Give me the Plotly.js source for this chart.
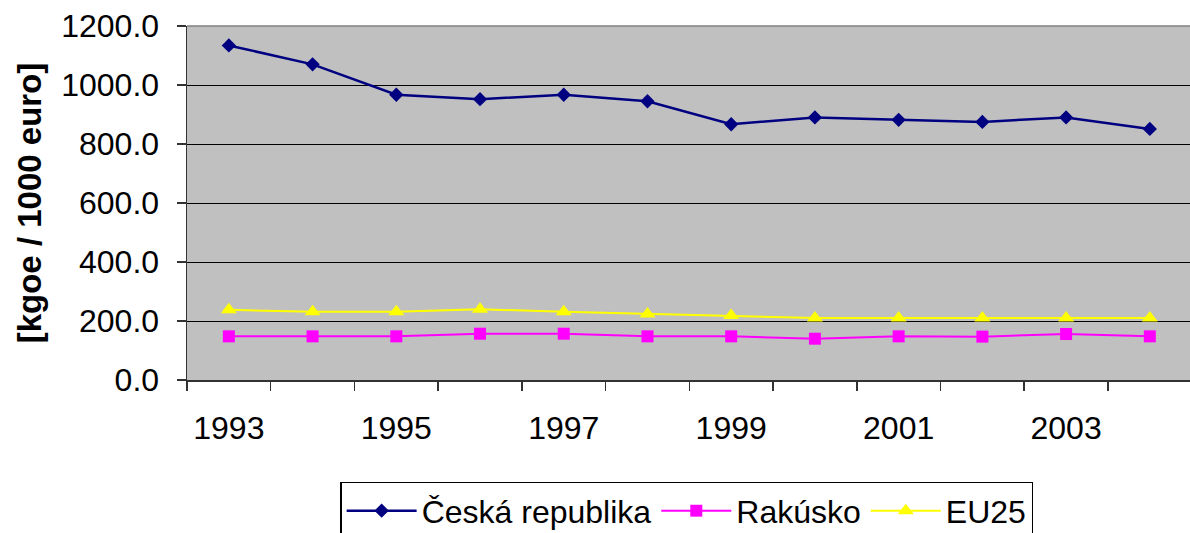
<!DOCTYPE html>
<html>
<head>
<meta charset="utf-8">
<script src="https://cdn.plot.ly/plotly-3.0.1.min.js"></script>
<style>html,body{margin:0;padding:0;background:#fff;}#chart{width:1190px;height:533px;}</style>
</head>
<body>
<div id="chart"></div>
<script>
const years = [1993, 1994, 1995, 1996, 1997, 1998, 1999, 2000, 2001, 2002, 2003, 2004];
const yearLabels = ['1993', '', '1995', '', '1997', '', '1999', '', '2001', '', '2003', ''];
const ceskaRepublika = [1134, 1070, 967, 952, 967, 945, 867, 890, 882, 875, 890, 851];
const rakusko = [148, 148, 148, 157, 157, 148, 148, 140, 148, 147, 156, 148];
const eu25 = [238, 231, 231, 240, 231, 224, 219, 210, 210, 210, 210, 210];
const seriesNames = ['Česká republika', 'Rakúsko', 'EU25'];
const yTicks = [0, 200, 400, 600, 800, 1000, 1200];

const traces = [
  {x: years, y: ceskaRepublika, name: seriesNames[0], type: 'scatter', mode: 'lines+markers',
   line: {color: '#000080', width: 2.5}, marker: {symbol: 'diamond', size: 11, color: '#000080'}},
  {x: years, y: rakusko, name: seriesNames[1], type: 'scatter', mode: 'lines+markers',
   line: {color: '#FF00FF', width: 2}, marker: {symbol: 'square', size: 12, color: '#FF00FF'}},
  {x: years, y: eu25, name: seriesNames[2], type: 'scatter', mode: 'lines+markers',
   line: {color: '#FFFF00', width: 2}, marker: {symbol: 'triangle-up', size: 14, color: '#FFFF00'}}
];

const layout = {
  width: 1190, height: 533,
  margin: {l: 187, r: 0, t: 26, b: 153},
  paper_bgcolor: '#ffffff',
  plot_bgcolor: '#C0C0C0',
  font: {family: 'Arial, "Liberation Sans", sans-serif', color: '#000'},
  showlegend: true,
  legend: {
    orientation: 'h', xref: 'container', yref: 'container',
    x: 0.577, xanchor: 'center', y: 0.096, yanchor: 'top',
    bordercolor: '#000', borderwidth: 1.5, bgcolor: '#fff',
    font: {size: 32, family: 'Arial, "Liberation Sans", sans-serif'},
    itemwidth: 70
  },
  xaxis: {
    type: 'linear', range: [1992.5, 2004.48],
    tickmode: 'array', tickvals: years, ticktext: yearLabels,
    ticks: '', showgrid: false, zeroline: false,
    showline: true, linecolor: '#333', linewidth: 1.5,
    tickfont: {size: 32}, ticklabelstandoff: 19,
    minor: {tickmode: 'linear', tick0: 1992.5, dtick: 1, ticks: 'outside', ticklen: 9, tickcolor: '#333', tickwidth: 1.5, showgrid: false}
  },
  yaxis: {
    range: [0, 1200], tickmode: 'array', tickvals: yTicks, tickformat: '.1f',
    ticks: 'outside', ticklen: 9, tickcolor: '#333', tickwidth: 1.5,
    showgrid: true, gridcolor: '#000', gridwidth: 1, zeroline: false,
    showline: true, linecolor: '#333', linewidth: 1.5,
    tickfont: {size: 32}, ticklabelstandoff: 11,
    title: {text: '[kgoe / 1000 euro]', font: {size: 33, weight: 'bold'}, standoff: 9}
  },
  shapes: [
    {type: 'line', xref: 'x domain', yref: 'y domain', x0: 0, x1: 1, y0: 1, y1: 1, line: {color: '#808080', width: 1.5}}
  ]
};

Plotly.newPlot('chart', traces, layout, {displayModeBar: false, staticPlot: true});
</script>
</body>
</html>
